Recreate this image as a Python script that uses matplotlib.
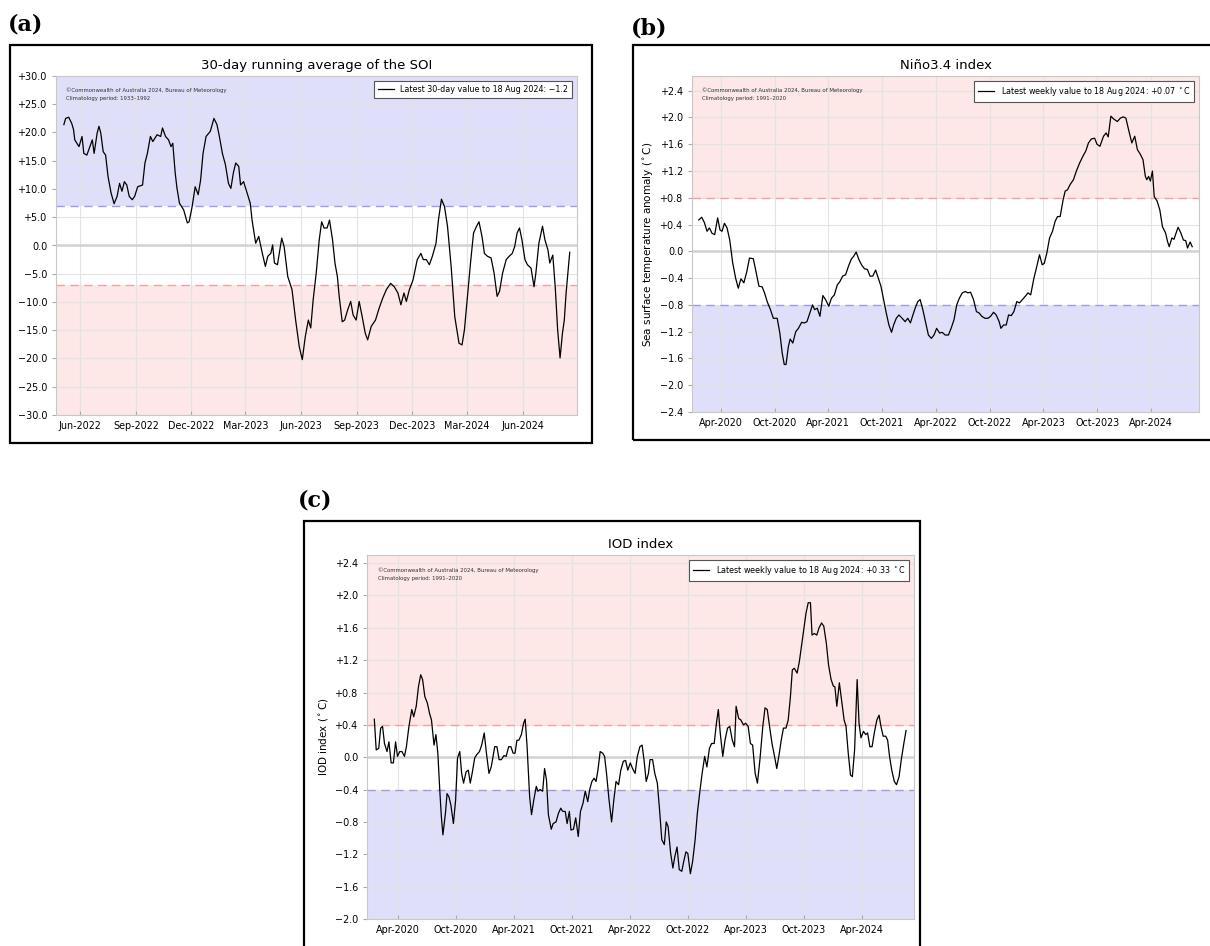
import pandas as pd
import matplotlib
matplotlib.use("Agg")
import matplotlib.pyplot as plt
import matplotlib.dates as mdates
from matplotlib.patches import Rectangle
from matplotlib.ticker import FuncFormatter, MultipleLocator

# ---- (a) 30-day SOI, days since 2022-05-05 ----
soi_start = "2022-05-05"
soi_days = [0, 3, 8, 13, 16, 18, 22, 25, 30, 33, 38, 43, 47, 50, 55, 58, 61, 65, 69, 73,
            78, 83, 88, 92, 96, 100, 104, 108, 113, 117, 122, 130, 134, 138, 143, 147, 154, 160, 163, 168,
            173, 177, 180, 184, 187, 191, 198, 204, 207, 212, 217, 222, 226, 230, 235, 242, 248, 253, 257, 262,
            267, 272, 276, 280, 284, 289, 292, 297, 301, 308, 311, 317, 322, 328, 333, 337, 342, 345, 348, 353,
            360, 364, 370, 377, 383, 389, 394, 399, 404, 408, 412, 417, 422, 426, 430, 435, 439, 444, 448, 452,
            455, 460, 464, 469, 474, 478, 483, 488, 493, 498, 502, 508, 515, 521, 527, 533, 540, 546, 552, 557,
            562, 566, 571, 577, 584, 590, 594, 599, 604, 609, 615, 619, 624, 629, 634, 640, 646, 653, 658, 662,
            667, 672, 677, 682, 686, 691, 695, 700, 706, 711, 716, 720, 725, 731, 736, 741, 745, 749, 753, 757,
            762, 766, 772, 777, 780, 785, 791, 795, 800, 803, 808, 812, 816, 820, 824, 827, 830, 836]
soi_vals = [21.4, 22.5, 22.7, 21.6, 20.5, 18.7, 18.0, 17.5, 19.3, 16.3, 16.0, 17.5, 18.7, 16.3, 19.9, 21.1, 19.9, 16.6, 16.0, 12.2,
            9.3, 7.4, 8.7, 11.0, 9.6, 11.3, 10.7, 8.7, 8.1, 8.7, 10.4, 10.7, 14.6, 16.3, 19.3, 18.4, 19.6, 19.3, 20.8, 19.3,
            18.7, 17.5, 18.1, 12.8, 10.1, 7.5, 6.3, 4.0, 4.2, 6.9, 10.4, 9.0, 11.6, 16.3, 19.3, 20.2, 22.5, 21.4, 19.3, 16.3,
            14.3, 11.0, 10.1, 12.8, 14.6, 14.0, 10.7, 11.3, 9.9, 7.5, 4.5, 0.4, 1.6, -1.4, -3.7, -1.9, -1.4, 0.1, -3.1, -3.4,
            1.3, -0.2, -5.5, -7.8, -13.2, -17.9, -20.2, -16.1, -13.2, -14.6, -9.6, -4.9, 1.0, 4.2, 3.1, 3.1, 4.5, 1.0, -3.1, -5.5,
            -9.0, -13.5, -13.2, -11.4, -9.9, -12.3, -13.2, -9.9, -12.6, -15.5, -16.7, -14.3, -13.2, -11.1, -9.3, -7.8, -6.7, -7.3, -8.4, -10.5,
            -8.4, -9.9, -7.8, -6.1, -2.5, -1.4, -2.5, -2.5, -3.4, -1.9, 0.4, 4.5, 8.2, 6.9, 3.4, -3.7, -12.6, -17.3, -17.6, -14.9,
            -9.0, -3.1, 2.2, 3.4, 4.2, 1.6, -1.4, -1.9, -2.2, -4.9, -9.0, -8.1, -4.9, -2.5, -1.9, -1.4, -0.2, 2.2, 3.1, 1.0,
            -2.5, -3.4, -4.0, -7.3, -4.9, 0.4, 3.4, 1.0, -0.8, -3.1, -1.7, -7.3, -14.9, -19.9, -15.5, -13.2, -8.4, -1.2]

# ---- (b) Nino3.4 weekly, days since 2020-01-18 ----
nino_start = "2020-01-18"
nino_days = [0, 10, 19, 28, 36, 45, 54, 64, 72, 79, 87, 96, 105, 115, 125, 134, 143, 153, 163, 172,
             185, 194, 204, 215, 223, 232, 243, 253, 266, 275, 283, 290, 296, 304, 310, 319, 329, 338, 349, 358,
             367, 377, 386, 393, 402, 411, 421, 430, 441, 450, 460, 470, 479, 488, 498, 508, 517, 526, 534, 543,
             552, 562, 572, 581, 590, 600, 609, 618, 626, 636, 645, 654, 661, 670, 679, 690, 700, 709, 718, 725,
             734, 743, 751, 760, 769, 779, 789, 798, 807, 817, 826, 836, 847, 856, 866, 875, 884, 894, 904, 913,
             922, 932, 942, 951, 960, 971, 981, 990, 1000, 1009, 1019, 1025, 1034, 1043, 1051, 1060, 1069, 1079, 1088, 1098,
             1108, 1117, 1126, 1137, 1147, 1156, 1165, 1172, 1181, 1190, 1200, 1209, 1217, 1226, 1236, 1243, 1251, 1260, 1271, 1281,
             1292, 1303, 1313, 1322, 1332, 1343, 1351, 1361, 1373, 1382, 1389, 1398, 1407, 1420, 1430, 1440, 1449, 1458, 1469, 1479,
             1488, 1498, 1507, 1515, 1520, 1526, 1532, 1539, 1545, 1555, 1564, 1573, 1584, 1590, 1596, 1605, 1612, 1619, 1626, 1635,
             1644, 1652, 1658, 1667, 1674]
nino_vals = [0.47, 0.51, 0.43, 0.30, 0.35, 0.27, 0.25, 0.50, 0.32, 0.30, 0.42, 0.35, 0.17, -0.17, -0.40, -0.55, -0.41, -0.47, -0.30, -0.10,
             -0.11, -0.30, -0.52, -0.53, -0.62, -0.75, -0.87, -1.00, -1.00, -1.22, -1.52, -1.69, -1.69, -1.42, -1.31, -1.37, -1.20, -1.15, -1.06, -1.07,
             -1.05, -0.92, -0.80, -0.87, -0.85, -0.97, -0.66, -0.72, -0.82, -0.70, -0.65, -0.50, -0.45, -0.37, -0.35, -0.22, -0.12, -0.07, -0.01, -0.12,
             -0.20, -0.26, -0.27, -0.37, -0.37, -0.28, -0.40, -0.52, -0.70, -0.92, -1.10, -1.21, -1.10, -1.00, -0.95, -1.00, -1.05, -1.00, -1.07, -0.97,
             -0.85, -0.75, -0.72, -0.87, -1.05, -1.25, -1.30, -1.25, -1.15, -1.22, -1.21, -1.25, -1.25, -1.15, -1.02, -0.80, -0.70, -0.62, -0.60, -0.62,
             -0.61, -0.72, -0.90, -0.92, -0.97, -1.00, -1.00, -0.97, -0.91, -0.95, -1.05, -1.15, -1.10, -1.10, -0.95, -0.96, -0.90, -0.75, -0.77, -0.72,
             -0.67, -0.62, -0.65, -0.40, -0.22, -0.05, -0.20, -0.18, -0.02, 0.20, 0.30, 0.45, 0.52, 0.52, 0.77, 0.90, 0.92, 1.00, 1.07, 1.20,
             1.32, 1.42, 1.50, 1.62, 1.68, 1.69, 1.60, 1.57, 1.72, 1.77, 1.71, 2.02, 1.98, 1.94, 1.99, 2.01, 1.99, 1.82, 1.62, 1.72,
             1.52, 1.45, 1.37, 1.12, 1.07, 1.12, 1.05, 1.20, 0.82, 0.75, 0.62, 0.37, 0.27, 0.15, 0.07, 0.20, 0.18, 0.27, 0.36, 0.28,
             0.17, 0.16, 0.05, 0.14, 0.07]

# ---- (c) IOD weekly, days since 2020-01-18 ----
iod_start = "2020-01-18"
iod_days = [0, 6, 14, 20, 26, 32, 40, 46, 53, 60, 67, 73, 80, 87, 95, 101, 109, 118, 124, 132,
            139, 146, 152, 159, 167, 174, 180, 188, 194, 200, 206, 211, 216, 224, 229, 235, 241, 249, 256, 262,
            269, 275, 281, 289, 296, 302, 308, 316, 322, 331, 338, 346, 353, 361, 368, 373, 379, 386, 393, 400,
            408, 415, 423, 430, 437, 443, 449, 455, 463, 470, 475, 481, 489, 495, 502, 510, 515, 522, 530, 536,
            542, 548, 557, 563, 572, 580, 587, 593, 601, 607, 614, 619, 627, 634, 642, 649, 657, 664, 672, 678,
            685, 692, 698, 704, 711, 719, 725, 731, 739, 747, 754, 761, 769, 776, 784, 791, 798, 806, 813, 821,
            828, 836, 843, 849, 856, 863, 868, 876, 883, 891, 898, 905, 913, 919, 925, 933, 940, 946, 953, 960,
            968, 974, 981, 987, 995, 1002, 1010, 1017, 1025, 1032, 1040, 1047, 1055, 1062, 1070, 1077, 1083, 1089, 1097, 1104,
            1112, 1119, 1127, 1134, 1139, 1147, 1154, 1162, 1169, 1177, 1184, 1191, 1199, 1206, 1214, 1223, 1230, 1237, 1245, 1252,
            1260, 1267, 1275, 1281, 1288, 1296, 1303, 1310, 1316, 1322, 1331, 1338, 1346, 1353, 1359, 1366, 1373, 1378, 1385, 1393,
            1400, 1408, 1415, 1423, 1430, 1438, 1445, 1450, 1456, 1464, 1471, 1479, 1485, 1492, 1499, 1505, 1512, 1520, 1526, 1532,
            1540, 1547, 1553, 1560, 1567, 1574, 1582, 1589, 1595, 1602, 1610, 1616, 1622, 1629, 1637, 1644, 1652, 1659, 1667, 1674]
iod_vals = [0.47, 0.09, 0.11, 0.36, 0.38, 0.17, 0.07, 0.19, -0.07, -0.07, 0.19, 0.01, 0.07, 0.07, 0.01, 0.13, 0.38, 0.59, 0.50, 0.63,
            0.87, 1.02, 0.96, 0.75, 0.67, 0.54, 0.46, 0.15, 0.28, 0.05, -0.40, -0.73, -0.96, -0.69, -0.45, -0.49, -0.59, -0.82, -0.53, -0.01,
            0.07, -0.20, -0.32, -0.18, -0.16, -0.32, -0.20, -0.01, 0.03, 0.07, 0.15, 0.30, 0.05, -0.20, -0.12, -0.01, 0.13, 0.13, -0.03, -0.03,
            0.02, 0.01, 0.13, 0.13, 0.05, 0.05, 0.21, 0.21, 0.28, 0.42, 0.47, 0.13, -0.49, -0.71, -0.53, -0.36, -0.42, -0.40, -0.42, -0.14,
            -0.28, -0.71, -0.89, -0.82, -0.80, -0.69, -0.63, -0.67, -0.67, -0.82, -0.67, -0.90, -0.89, -0.75, -0.98, -0.67, -0.57, -0.42, -0.55, -0.40,
            -0.30, -0.26, -0.30, -0.16, 0.07, 0.05, 0.01, -0.20, -0.53, -0.80, -0.53, -0.30, -0.34, -0.16, -0.05, -0.04, -0.16, -0.07, -0.14, -0.20,
            0.01, 0.13, 0.15, -0.03, -0.30, -0.20, -0.03, -0.03, -0.20, -0.32, -0.65, -1.02, -1.08, -0.80, -0.86, -1.19, -1.37, -1.23, -1.11, -1.39,
            -1.41, -1.29, -1.17, -1.19, -1.44, -1.29, -1.02, -0.69, -0.42, -0.20, 0.01, -0.12, 0.11, 0.17, 0.17, 0.42, 0.59, 0.30, 0.01, 0.21,
            0.36, 0.38, 0.21, 0.13, 0.63, 0.48, 0.46, 0.40, 0.42, 0.38, 0.17, 0.15, -0.20, -0.32, -0.03, 0.38, 0.61, 0.59, 0.36, 0.17,
            0.01, -0.14, 0.05, 0.21, 0.36, 0.36, 0.46, 0.75, 1.08, 1.10, 1.04, 1.18, 1.41, 1.62, 1.78, 1.91, 1.91, 1.51, 1.53, 1.51,
            1.60, 1.66, 1.62, 1.41, 1.14, 0.96, 0.88, 0.87, 0.63, 0.92, 0.71, 0.46, 0.38, 0.05, -0.22, -0.24, 0.09, 0.96, 0.42, 0.24,
            0.32, 0.28, 0.30, 0.13, 0.13, 0.30, 0.46, 0.52, 0.38, 0.26, 0.26, 0.21, 0.01, -0.16, -0.30, -0.34, -0.24, -0.03, 0.17, 0.33]

BLUE_FILL = "#dfdffa"
RED_FILL = "#fde7e7"
BLUE_LINE = "#9c9cea"
RED_LINE = "#f5a0a0"
GRID = "#e3e3e3"
SPINE = "#c8c8c8"

COPYRIGHT = "\u00a9Commonwealth of Australia 2024, Bureau of Meteorology"


def signed(fmt):
    def f(v, pos):
        if abs(v) < 1e-9:
            return fmt.format(0.0)
        s = fmt.format(abs(v))
        return ("+" if v > 0 else "\u2212") + s
    return FuncFormatter(f)


def make_dates(start, days):
    return pd.Timestamp(start) + pd.to_timedelta(days, unit="D")


def style_panel(ax, x, y, ylim, ystep, yfmt, thr, upper_fill, lower_fill,
                upper_line, lower_line, xlim, months, title, ylabel, label, clim):
    ax.axhspan(thr, ylim[1], color=upper_fill, lw=0, zorder=0)
    ax.axhspan(ylim[0], -thr, color=lower_fill, lw=0, zorder=0)
    ax.axhline(0, color="#d2d2d2", lw=1.8, zorder=1)
    ax.axhline(thr, color=upper_line, lw=1.0, ls=(0, (6, 4)), zorder=2)
    ax.axhline(-thr, color=lower_line, lw=1.0, ls=(0, (6, 4)), zorder=2)
    ax.plot(x, y, color="black", lw=0.9, zorder=3, label=label)
    ax.set_ylim(*ylim)
    ax.set_xlim(pd.Timestamp(xlim[0]), pd.Timestamp(xlim[1]))
    ax.yaxis.set_major_locator(MultipleLocator(ystep))
    ax.yaxis.set_major_formatter(signed(yfmt))
    ax.xaxis.set_major_locator(mdates.MonthLocator(bymonth=months, bymonthday=1))
    ax.xaxis.set_major_formatter(mdates.DateFormatter("%b-%Y"))
    ax.grid(True, color=GRID, lw=0.8, zorder=0.5)
    ax.set_axisbelow(True)
    for s in ax.spines.values():
        s.set_color(SPINE)
        s.set_linewidth(0.8)
    ax.tick_params(axis="x", direction="in", length=3, color="#aaaaaa", labelsize=6.9, pad=4)
    ax.tick_params(axis="y", direction="out", length=3, color="#aaaaaa", labelsize=6.9, pad=3)
    ax.set_title(title, fontsize=9.5, pad=5)
    if ylabel:
        ax.set_ylabel(ylabel, fontsize=7.5, labelpad=4)
    leg = ax.legend(loc="upper right", fontsize=5.8, frameon=True, fancybox=False,
                    handlelength=2.0, borderpad=0.5, borderaxespad=0.6, framealpha=1)
    leg.get_frame().set_edgecolor("#555555")
    leg.get_frame().set_linewidth(0.8)
    ax.text(0.02, 0.965, COPYRIGHT + "\nClimatology period: " + clim,
            transform=ax.transAxes, fontsize=3.9, va="top", ha="left",
            color="#333333", linespacing=1.7)


fig = plt.figure(figsize=(12.10, 9.46), dpi=100)
W, H = 1210.0, 946.0


def px_axes(l, t, r, b):
    return fig.add_axes([l / W, 1 - b / H, (r - l) / W, (b - t) / H])


def px_box(l, t, r, b):
    fig.add_artist(Rectangle((l / W, 1 - b / H), (r - l) / W, (b - t) / H,
                             transform=fig.transFigure, fill=False,
                             edgecolor="black", lw=1.6))


px_box(10, 45, 592, 443)
px_box(633, 45, 1215, 440)
px_box(304, 521, 920, 952)

ax_a = px_axes(56, 76, 577, 415)
style_panel(ax_a, make_dates(soi_start, soi_days), soi_vals, (-30, 30), 5, "{:.1f}", 7,
            BLUE_FILL, RED_FILL, BLUE_LINE, RED_LINE,
            ("2022-04-22", "2024-08-30"), [3, 6, 9, 12],
            "30-day running average of the SOI", None,
            "Latest 30-day value to 18 Aug 2024: \u22121.2", "1933\u20131992")

ax_b = px_axes(692, 76, 1199, 412)
style_panel(ax_b, make_dates(nino_start, nino_days), nino_vals, (-2.4, 2.62), 0.4, "{:.1f}", 0.8,
            RED_FILL, BLUE_FILL, RED_LINE, BLUE_LINE,
            ("2019-12-26", "2024-09-10"), [4, 10],
            "Ni\u00f1o3.4 index", "Sea surface temperature anomaly ($^\\circ$C)",
            "Latest weekly value to 18 Aug 2024: +0.07 $^\\circ$C", "1991\u20132020")

ax_c = px_axes(367, 555, 914, 919)
style_panel(ax_c, make_dates(iod_start, iod_days), iod_vals, (-2.0, 2.5), 0.4, "{:.1f}", 0.4,
            RED_FILL, BLUE_FILL, RED_LINE, BLUE_LINE,
            ("2019-12-26", "2024-09-12"), [4, 10],
            "IOD index", "IOD index ($^\\circ$C)",
            "Latest weekly value to 18 Aug 2024: +0.33 $^\\circ$C", "1991\u20132020")

for txt, x, y in [("(a)", 8, 30), ("(b)", 631, 34), ("(c)", 298, 506)]:
    fig.text(x / W, 1 - y / H, txt, fontsize=16, fontweight="bold",
             family="DejaVu Serif", ha="left", va="baseline")

fig.savefig("out.png", dpi=100)
